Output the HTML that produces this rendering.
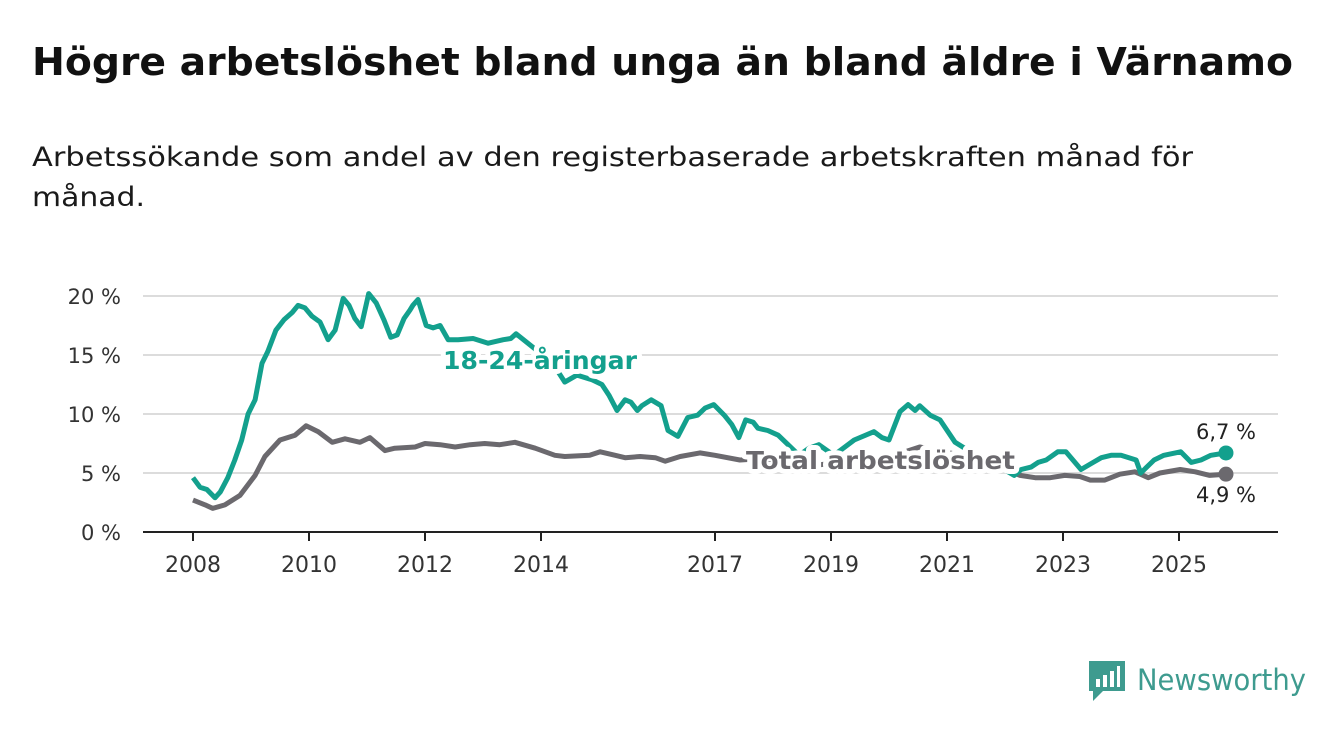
<!DOCTYPE html>
<html><head><meta charset="utf-8">
<style>
body{margin:0;background:#fff;width:1340px;height:734px;overflow:hidden;font-family:"DejaVu Sans","Liberation Sans",sans-serif;}
svg{position:absolute;left:0;top:0}
</style></head><body>
<svg id="chart" width="1340" height="734">
<text x="32" y="75" font-size="38" font-weight="bold" fill="#111" textLength="1261" lengthAdjust="spacingAndGlyphs">Högre arbetslöshet bland unga än bland äldre i Värnamo</text>
<text x="32" y="166" font-size="27" fill="#1a1a1a" textLength="1161" lengthAdjust="spacingAndGlyphs">Arbetssökande som andel av den registerbaserade arbetskraften månad för</text>
<text x="32" y="206" font-size="27" fill="#1a1a1a" textLength="113" lengthAdjust="spacingAndGlyphs">månad.</text>
</svg>
<script>
const youthDates=[2008.0,2008.12,2008.24,2008.38,2008.47,2008.6,2008.72,2008.84,2008.95,2009.07,2009.19,2009.29,2009.43,2009.57,2009.71,2009.81,2009.93,2010.05,2010.19,2010.33,2010.45,2010.59,2010.69,2010.79,2010.9,2011.03,2011.16,2011.29,2011.41,2011.52,2011.64,2011.74,2011.79,2011.88,2012.02,2012.14,2012.26,2012.4,2012.57,2012.83,2013.09,2013.35,2013.48,2013.57,2013.9,2014.28,2014.41,2014.62,2014.88,2015.05,2015.17,2015.31,2015.45,2015.55,2015.66,2015.74,2015.9,2016.07,2016.19,2016.36,2016.53,2016.7,2016.83,2016.98,2017.16,2017.29,2017.41,2017.53,2017.66,2017.74,2017.91,2018.09,2018.26,2018.45,2018.62,2018.79,2019.05,2019.4,2019.74,2019.88,2020.0,2020.19,2020.33,2020.45,2020.53,2020.71,2020.88,2021.14,2021.5,2021.84,2022.16,2022.28,2022.45,2022.57,2022.71,2022.91,2023.05,2023.31,2023.52,2023.66,2023.83,2024.0,2024.26,2024.34,2024.57,2024.74,2025.03,2025.21,2025.38,2025.55,2025.81];
const youthValues=[4.6,3.8,3.6,2.9,3.4,4.6,6.1,7.8,10.0,11.2,14.3,15.3,17.1,18.0,18.6,19.2,19.0,18.3,17.8,16.3,17.1,19.8,19.2,18.1,17.4,20.2,19.4,18.0,16.5,16.7,18.1,18.8,19.2,19.7,17.5,17.3,17.5,16.3,16.3,16.4,16.0,16.3,16.4,16.8,15.5,13.7,12.7,13.3,12.9,12.5,11.6,10.3,11.2,11.0,10.3,10.7,11.2,10.7,8.6,8.1,9.7,9.9,10.5,10.8,9.9,9.1,8.0,9.5,9.3,8.8,8.6,8.2,7.4,6.5,7.1,7.4,6.5,7.8,8.5,8.0,7.8,10.2,10.8,10.3,10.7,9.9,9.5,7.6,6.5,5.7,4.8,5.3,5.5,5.9,6.1,6.8,6.8,5.3,5.9,6.3,6.5,6.5,6.1,5.0,6.1,6.5,6.8,5.9,6.1,6.5,6.7];
const totalDates=[2008.0,2008.21,2008.34,2008.55,2008.81,2009.07,2009.24,2009.5,2009.76,2009.95,2010.16,2010.4,2010.62,2010.88,2011.05,2011.31,2011.48,2011.83,2012.0,2012.26,2012.52,2012.78,2013.03,2013.29,2013.55,2013.9,2014.24,2014.41,2014.84,2015.02,2015.28,2015.45,2015.71,2015.97,2016.14,2016.4,2016.74,2017.0,2017.43,2017.78,2018.12,2018.38,2018.64,2019.16,2019.84,2020.28,2020.53,2020.97,2021.57,2022.26,2022.52,2022.78,2023.03,2023.29,2023.47,2023.72,2023.98,2024.24,2024.47,2024.67,2025.02,2025.28,2025.53,2025.81];
const totalValues=[2.7,2.3,2.0,2.3,3.1,4.8,6.4,7.8,8.2,9.0,8.5,7.6,7.9,7.6,8.0,6.9,7.1,7.2,7.5,7.4,7.2,7.4,7.5,7.4,7.6,7.1,6.5,6.4,6.5,6.8,6.5,6.3,6.4,6.3,6.0,6.4,6.7,6.5,6.1,6.2,6.1,5.8,5.6,5.9,6.4,6.8,7.2,6.8,6.1,4.8,4.6,4.6,4.8,4.7,4.4,4.4,4.9,5.1,4.6,5.0,5.3,5.1,4.8,4.9];
const yTicks=[0,5,10,15,20];
const yTickLabels=["0 %","5 %","10 %","15 %","20 %"];
const xTicks=[2008,2010,2012,2014,2017,2019,2021,2023,2025];
const NS="http://www.w3.org/2000/svg";
const svg=document.getElementById('chart');
const X=y=>193+(y-2008)*58;
const Y=v=>532-v*11.8;
function mk(tag,attrs,parent){const e=document.createElementNS(NS,tag);for(const k in attrs)e.setAttribute(k,attrs[k]);(parent||svg).appendChild(e);return e;}
yTicks.forEach((t,i)=>{
 if(t>0){const g=mk('line',{x1:143,x2:1278,y1:Y(t),y2:Y(t),stroke:'#dcdcdc','stroke-width':2});
 
 }
 const tx=mk('text',{x:121,y:Y(t)+8,'text-anchor':'end','font-size':21,fill:'#333'});
 tx.textContent=yTickLabels[i];
 
 
});
const ax=mk('line',{x1:143,x2:1278,y1:532,y2:532,stroke:'#222','stroke-width':2});


xTicks.forEach(t=>{
 const l=mk('line',{x1:X(t),x2:X(t),y1:532,y2:541,stroke:'#222','stroke-width':2});
 
 
 const tx=mk('text',{x:X(t),y:572,'text-anchor':'middle','font-size':22,fill:'#333'});
 tx.textContent=t;
 
 
});
function path(d,v){return d.map((x,i)=>(i?'L':'M')+X(x).toFixed(1)+' '+Y(v[i]).toFixed(1)).join(' ');}
const tl=mk('path',{d:path(totalDates,totalValues),fill:'none',stroke:'#6b696e','stroke-width':5,'stroke-linejoin':'round'});


const yl=mk('path',{d:path(youthDates,youthValues),fill:'none',stroke:'#13a08d','stroke-width':5,'stroke-linejoin':'round'});


const lt=totalDates.length-1, ly=youthDates.length-1;
const d1=mk('circle',{cx:X(totalDates[lt]),cy:Y(totalValues[lt]),r:7.5,fill:'#6b696e'});


const d2=mk('circle',{cx:X(youthDates[ly]),cy:Y(youthValues[ly]),r:7.5,fill:'#13a08d'});


const v1=mk('text',{x:1226,y:Y(youthValues[ly])-14,'text-anchor':'middle','font-size':21,fill:'#222'});
v1.textContent=youthValues[ly].toFixed(1).replace('.',',')+' %';


const v2=mk('text',{x:1226,y:Y(totalValues[lt])+28,'text-anchor':'middle','font-size':21,fill:'#222'});
v2.textContent=totalValues[lt].toFixed(1).replace('.',',')+' %';


const s1=mk('text',{x:443,y:369,'font-size':25,'font-weight':'bold',fill:'#13a08d',stroke:'#fff','stroke-width':10,'paint-order':'stroke','stroke-linejoin':'round',textLength:194,lengthAdjust:'spacingAndGlyphs'});
s1.textContent='18-24-åringar';


const s2=mk('text',{x:746,y:469,'font-size':25,'font-weight':'bold',fill:'#6b696e',stroke:'#fff','stroke-width':10,'paint-order':'stroke','stroke-linejoin':'round',textLength:269,lengthAdjust:'spacingAndGlyphs'});
s2.textContent='Total arbetslöshet';


const lg=mk('g',{transform:'translate(1089,661)'});


mk('path',{d:'M0 0H36V30H14L4 40V30H0Z',fill:'#3e9b8f'},lg);
mk('rect',{x:7,y:18,width:4,height:8,fill:'#fff'},lg);
mk('rect',{x:14,y:14,width:4,height:12,fill:'#fff'},lg);
mk('rect',{x:21,y:10,width:4,height:16,fill:'#fff'},lg);
mk('rect',{x:28,y:5,width:3,height:21,fill:'#fff'},lg);
const lt2=mk('text',{x:48,y:29,'font-size':29,fill:'#3e9b8f',textLength:169,lengthAdjust:'spacingAndGlyphs'},lg);
lt2.textContent='Newsworthy';


</script>
</body></html>
